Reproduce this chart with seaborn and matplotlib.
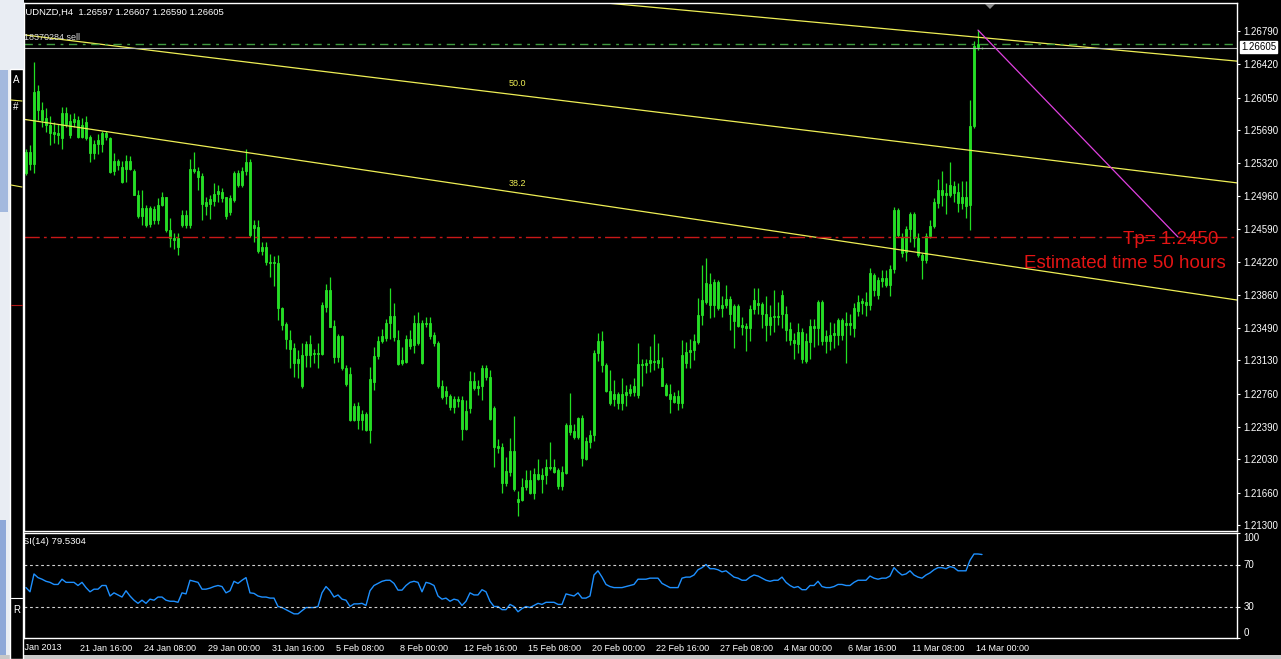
import matplotlib
matplotlib.use('Agg')
import matplotlib.pyplot as plt
import matplotlib.transforms as mtransforms
from matplotlib.patches import Rectangle, Polygon
import numpy as np
import pandas as pd
import seaborn as sns

W, H = 1281, 659

symbol_header = 'AUDNZD,H4  1.26597 1.26607 1.26590 1.26605'
rsi_header = 'RSI(14) 79.5304'
order_label = '#18370284 sell'

# H4 bars, six per weekday, counted from 17 Jan 2013 00:00
days = pd.bdate_range('2013-01-17', '2013-03-14')
bar_times = [d + pd.Timedelta(hours=4 * k) for d in days for k in range(6)]
first_bar = 3  # first bar that shows right of the side panel

opens = [
    1.2521, 1.2544, 1.2531, 1.2612, 1.2591, 1.2582, 1.2575, 1.2567, 1.2563, 1.2560,
    1.2588, 1.2579, 1.2578, 1.2580, 1.2561, 1.2578, 1.2561, 1.2543, 1.2553, 1.2553,
    1.2566, 1.2560, 1.2523, 1.2534, 1.2528, 1.2526, 1.2535, 1.2523, 1.2497, 1.2473,
    1.2482, 1.2465, 1.2481, 1.2469, 1.2486, 1.2494, 1.2458, 1.2449, 1.2449, 1.2463,
    1.2474, 1.2463, 1.2526, 1.2523, 1.2518, 1.2489, 1.2487, 1.2490, 1.2498, 1.2500,
    1.2494, 1.2478, 1.2491, 1.2521, 1.2508, 1.2523, 1.2533, 1.2460, 1.2461, 1.2439,
    1.2439, 1.2422, 1.2422, 1.2421, 1.2371, 1.2353, 1.2336, 1.2327, 1.2310, 1.2319,
    1.2319, 1.2331, 1.2320, 1.2320, 1.2320, 1.2372, 1.2391, 1.2351, 1.2317, 1.2340,
    1.2305, 1.2298, 1.2247, 1.2262, 1.2247, 1.2253, 1.2236, 1.2289, 1.2318, 1.2335,
    1.2338, 1.2355, 1.2362, 1.2336, 1.2310, 1.2311, 1.2337, 1.2330, 1.2332, 1.2310,
    1.2353, 1.2355, 1.2341, 1.2332, 1.2284, 1.2273, 1.2273, 1.2261, 1.2270, 1.2269,
    1.2237, 1.2260, 1.2290, 1.2282, 1.2284, 1.2305, 1.2294, 1.2260, 1.2218, 1.2217,
    1.2177, 1.2189, 1.2212, 1.2159, 1.2158, 1.2172, 1.2180, 1.2165, 1.2187, 1.2181,
    1.2185, 1.2194, 1.2194, 1.2191, 1.2173, 1.2188, 1.2241, 1.2234, 1.2228, 1.2249,
    1.2203, 1.2222, 1.2230, 1.2321, 1.2335, 1.2308, 1.2279, 1.2270, 1.2276, 1.2266,
    1.2275, 1.2277, 1.2278, 1.2275, 1.2309, 1.2308, 1.2310, 1.2312, 1.2310, 1.2304,
    1.2286, 1.2276, 1.2273, 1.2265, 1.2265, 1.2310, 1.2322, 1.2324, 1.2333, 1.2363,
    1.2378, 1.2398, 1.2374, 1.2400, 1.2371, 1.2374, 1.2381, 1.2357, 1.2373, 1.2350,
    1.2351, 1.2349, 1.2370, 1.2377, 1.2376, 1.2365, 1.2352, 1.2361, 1.2362, 1.2364,
    1.2364, 1.2348, 1.2336, 1.2331, 1.2345, 1.2312, 1.2333, 1.2351, 1.2349, 1.2378,
    1.2334, 1.2341, 1.2341, 1.2341, 1.2358, 1.2352, 1.2354, 1.2349, 1.2368, 1.2377,
    1.2378, 1.2374, 1.2408, 1.2386, 1.2401, 1.2405, 1.2397, 1.2415, 1.2480, 1.2450,
    1.2433, 1.2459, 1.2476, 1.2449, 1.2430, 1.2425, 1.2451, 1.2462, 1.2488, 1.2502,
    1.2497, 1.2497, 1.2507, 1.2500, 1.2488, 1.2495, 1.2486, 1.2573, 1.2661, 1.26597,
]
highs = [
    1.2548, 1.2552, 1.2645, 1.2619, 1.2600, 1.2593, 1.2584, 1.2578, 1.2576, 1.2595,
    1.2595, 1.2587, 1.2588, 1.2584, 1.2582, 1.2585, 1.2563, 1.2558, 1.2564, 1.2568,
    1.2568, 1.2561, 1.2543, 1.2537, 1.2534, 1.2541, 1.2540, 1.2526, 1.2502, 1.2502,
    1.2486, 1.2484, 1.2484, 1.2493, 1.2500, 1.2495, 1.2471, 1.2454, 1.2454, 1.2480,
    1.2480, 1.2537, 1.2545, 1.2528, 1.2521, 1.2495, 1.2497, 1.2510, 1.2508, 1.2505,
    1.2495, 1.2497, 1.2523, 1.2524, 1.2528, 1.2548, 1.2537, 1.2469, 1.2469, 1.2445,
    1.2445, 1.2431, 1.2429, 1.2430, 1.2372, 1.2356, 1.2347, 1.2332, 1.2324, 1.2332,
    1.2334, 1.2341, 1.2326, 1.2332, 1.2378, 1.2398, 1.2406, 1.2358, 1.2342, 1.2341,
    1.2308, 1.2306, 1.2265, 1.2267, 1.2258, 1.2256, 1.2306, 1.2328, 1.2340, 1.2348,
    1.2359, 1.2393, 1.2377, 1.2347, 1.2328, 1.2341, 1.2347, 1.2363, 1.2367, 1.2358,
    1.2361, 1.2361, 1.2344, 1.2334, 1.2291, 1.2284, 1.2276, 1.2273, 1.2273, 1.2273,
    1.2269, 1.2301, 1.2300, 1.2291, 1.2308, 1.2308, 1.2302, 1.2262, 1.2225, 1.2221,
    1.2206, 1.2227, 1.2251, 1.2168, 1.2182, 1.2191, 1.2191, 1.2193, 1.2203, 1.2193,
    1.2203, 1.2222, 1.2203, 1.2193, 1.2195, 1.2243, 1.2277, 1.2242, 1.2250, 1.2252,
    1.2228, 1.2236, 1.2325, 1.2343, 1.2346, 1.2310, 1.2302, 1.2291, 1.2278, 1.2293,
    1.2286, 1.2287, 1.2293, 1.2332, 1.2315, 1.2315, 1.2329, 1.2342, 1.2332, 1.2317,
    1.2288, 1.2287, 1.2278, 1.2280, 1.2336, 1.2333, 1.2337, 1.2342, 1.2382, 1.2419,
    1.2427, 1.2410, 1.2403, 1.2402, 1.2384, 1.2397, 1.2384, 1.2376, 1.2376, 1.2361,
    1.2354, 1.2374, 1.2393, 1.2393, 1.2378, 1.2384, 1.2375, 1.2391, 1.2378, 1.2391,
    1.2373, 1.2356, 1.2343, 1.2354, 1.2349, 1.2343, 1.2359, 1.2359, 1.2380, 1.2380,
    1.2347, 1.2356, 1.2354, 1.2360, 1.2360, 1.2367, 1.2365, 1.2377, 1.2386, 1.2382,
    1.2389, 1.2416, 1.2410, 1.2406, 1.2413, 1.2413, 1.2419, 1.2483, 1.2482, 1.2454,
    1.2462, 1.2478, 1.2478, 1.2454, 1.2432, 1.2454, 1.2469, 1.2493, 1.2515, 1.2523,
    1.2510, 1.2533, 1.2512, 1.2510, 1.2512, 1.2512, 1.2602, 1.2668, 1.2680, 1.26607,
]
lows = [
    1.2519, 1.2524, 1.2521, 1.2580, 1.2572, 1.2567, 1.2552, 1.2555, 1.2553, 1.2548,
    1.2572, 1.2560, 1.2572, 1.2560, 1.2560, 1.2558, 1.2533, 1.2537, 1.2542, 1.2545,
    1.2558, 1.2521, 1.2519, 1.2524, 1.2510, 1.2511, 1.2524, 1.2497, 1.2471, 1.2463,
    1.2461, 1.2461, 1.2465, 1.2465, 1.2484, 1.2456, 1.2439, 1.2437, 1.2430, 1.2461,
    1.2460, 1.2460, 1.2521, 1.2502, 1.2469, 1.2474, 1.2470, 1.2484, 1.2489, 1.2489,
    1.2470, 1.2474, 1.2489, 1.2506, 1.2506, 1.2519, 1.2450, 1.2445, 1.2432, 1.2430,
    1.2419, 1.2406, 1.2396, 1.2358, 1.2347, 1.2326, 1.2304, 1.2295, 1.2293, 1.2282,
    1.2306, 1.2306, 1.2310, 1.2304, 1.2319, 1.2367, 1.2350, 1.2310, 1.2311, 1.2302,
    1.2285, 1.2245, 1.2245, 1.2237, 1.2236, 1.2234, 1.2221, 1.2280, 1.2315, 1.2332,
    1.2335, 1.2337, 1.2335, 1.2308, 1.2308, 1.2310, 1.2326, 1.2321, 1.2330, 1.2309,
    1.2350, 1.2337, 1.2329, 1.2282, 1.2270, 1.2264, 1.2258, 1.2254, 1.2261, 1.2224,
    1.2236, 1.2254, 1.2280, 1.2274, 1.2269, 1.2291, 1.2247, 1.2194, 1.2210, 1.2165,
    1.2173, 1.2184, 1.2168, 1.2140, 1.2157, 1.2169, 1.2164, 1.2159, 1.2180, 1.2165,
    1.2176, 1.2191, 1.2188, 1.2170, 1.2169, 1.2187, 1.2230, 1.2226, 1.2226, 1.2195,
    1.2202, 1.2215, 1.2223, 1.2312, 1.2300, 1.2278, 1.2263, 1.2262, 1.2259, 1.2258,
    1.2262, 1.2273, 1.2273, 1.2271, 1.2284, 1.2299, 1.2300, 1.2302, 1.2304, 1.2284,
    1.2273, 1.2254, 1.2265, 1.2258, 1.2260, 1.2304, 1.2304, 1.2313, 1.2331, 1.2352,
    1.2376, 1.2360, 1.2361, 1.2369, 1.2361, 1.2371, 1.2347, 1.2327, 1.2350, 1.2341,
    1.2323, 1.2334, 1.2365, 1.2365, 1.2349, 1.2335, 1.2341, 1.2345, 1.2352, 1.2349,
    1.2334, 1.2330, 1.2314, 1.2321, 1.2310, 1.2310, 1.2314, 1.2328, 1.2330, 1.2330,
    1.2321, 1.2325, 1.2327, 1.2330, 1.2336, 1.2310, 1.2341, 1.2339, 1.2362, 1.2365,
    1.2362, 1.2369, 1.2384, 1.2381, 1.2395, 1.2395, 1.2385, 1.2410, 1.2450, 1.2428,
    1.2423, 1.2445, 1.2439, 1.2428, 1.2403, 1.2421, 1.2449, 1.2460, 1.2482, 1.2484,
    1.2476, 1.2495, 1.2489, 1.2478, 1.2481, 1.2471, 1.2458, 1.2571, 1.2658, 1.26590,
]
closes = [
    1.2545, 1.2531, 1.2611, 1.2591, 1.2580, 1.2574, 1.2566, 1.2564, 1.2566, 1.2588,
    1.2576, 1.2563, 1.2581, 1.2561, 1.2575, 1.2560, 1.2543, 1.2553, 1.2558, 1.2566,
    1.2561, 1.2522, 1.2535, 1.2530, 1.2511, 1.2535, 1.2526, 1.2497, 1.2473, 1.2482,
    1.2463, 1.2482, 1.2469, 1.2486, 1.2494, 1.2458, 1.2449, 1.2447, 1.2439, 1.2474,
    1.2463, 1.2526, 1.2523, 1.2517, 1.2487, 1.2485, 1.2492, 1.2498, 1.2501, 1.2493,
    1.2473, 1.2493, 1.2521, 1.2508, 1.2523, 1.2533, 1.2452, 1.2463, 1.2434, 1.2434,
    1.2422, 1.2421, 1.2421, 1.2371, 1.2352, 1.2337, 1.2326, 1.2310, 1.2315, 1.2285,
    1.2331, 1.2319, 1.2321, 1.2321, 1.2374, 1.2391, 1.2350, 1.2317, 1.2340, 1.2305,
    1.2287, 1.2247, 1.2262, 1.2247, 1.2253, 1.2236, 1.2292, 1.2318, 1.2335, 1.2340,
    1.2355, 1.2362, 1.2339, 1.2309, 1.2313, 1.2337, 1.2329, 1.2354, 1.2355, 1.2354,
    1.2354, 1.2340, 1.2332, 1.2284, 1.2272, 1.2279, 1.2261, 1.2270, 1.2268, 1.2237,
    1.2257, 1.2290, 1.2282, 1.2284, 1.2304, 1.2295, 1.2248, 1.2217, 1.2216, 1.2177,
    1.2190, 1.2212, 1.2170, 1.2156, 1.2172, 1.2180, 1.2165, 1.2187, 1.2181, 1.2185,
    1.2194, 1.2193, 1.2189, 1.2173, 1.2189, 1.2241, 1.2233, 1.2228, 1.2249, 1.2204,
    1.2223, 1.2230, 1.2321, 1.2335, 1.2308, 1.2279, 1.2265, 1.2276, 1.2266, 1.2276,
    1.2278, 1.2281, 1.2284, 1.2309, 1.2308, 1.2310, 1.2313, 1.2311, 1.2313, 1.2285,
    1.2275, 1.2270, 1.2267, 1.2273, 1.2319, 1.2322, 1.2325, 1.2334, 1.2363, 1.2380,
    1.2399, 1.2374, 1.2400, 1.2371, 1.2374, 1.2381, 1.2364, 1.2373, 1.2351, 1.2352,
    1.2349, 1.2370, 1.2380, 1.2375, 1.2365, 1.2352, 1.2361, 1.2362, 1.2361, 1.2386,
    1.2347, 1.2336, 1.2332, 1.2345, 1.2314, 1.2334, 1.2351, 1.2349, 1.2378, 1.2334,
    1.2340, 1.2335, 1.2343, 1.2358, 1.2341, 1.2354, 1.2352, 1.2371, 1.2378, 1.2379,
    1.2374, 1.2410, 1.2391, 1.2402, 1.2405, 1.2397, 1.2415, 1.2480, 1.2452, 1.2432,
    1.2459, 1.2476, 1.2449, 1.2430, 1.2425, 1.2451, 1.2462, 1.2489, 1.2502, 1.2497,
    1.2499, 1.2508, 1.2499, 1.2488, 1.2495, 1.2485, 1.2573, 1.2662, 1.2664, 1.26605,
]
rsi = [
    48, 44, 61, 57.5, 56, 54, 53, 51, 51, 56,
    53, 53, 53, 50, 53, 48, 44, 46.5, 46.5, 50,
    50, 40, 43, 41, 39, 45, 40, 36, 33, 36,
    33, 37, 36, 39, 39, 36, 35, 35, 34, 43,
    42, 55, 54, 53, 46.5, 46.5, 47.5, 49, 50, 49,
    43, 45, 54, 52, 55, 57.5, 43, 42.5, 40, 39,
    39, 38, 38, 30, 29, 27, 25, 23, 23, 26,
    29, 29, 29, 30, 43, 49, 45, 39, 41, 37,
    36, 30, 32.5, 32.5, 33, 31, 45, 50, 52, 54,
    55, 55, 52, 45.6, 45.6, 50, 53, 54,
    53, 44, 53, 52, 50,
    40, 37, 38, 35, 37, 36, 31, 35,
    43, 41, 41, 46, 44, 35,
    30, 30, 27, 27, 32, 30,
    25, 28, 30, 29, 31, 33, 32, 34, 34, 34, 32, 32,
    42, 41, 40, 43, 38, 38, 40,
    60, 64, 58,
    51, 49, 48, 48, 48, 49, 50, 51,
    56, 56, 56, 57, 57, 57,
    52, 50, 48, 48, 48,
    57, 58, 58, 60,
    65, 67, 70, 66, 66, 65,
    63, 64, 61, 58, 57, 55,
    55, 58, 60, 59, 57, 55, 54, 55, 55, 58, 53,
    50, 48, 49, 46, 46,
    50, 50, 54, 49, 48, 48, 49,
    51, 51, 50, 50, 53, 55, 55, 55,
    59, 57, 56, 57, 57, 59,
    67, 63, 60, 61, 64, 60, 58, 57, 60, 62, 65,
    67, 67, 66, 68, 67, 64, 64, 64,
    74, 80, 80, 79.53,
]

price_ticks = [1.21300, 1.21660, 1.22030, 1.22390, 1.22760, 1.23130, 1.23490, 1.23860,
               1.24220, 1.24590, 1.24960, 1.25320, 1.25690, 1.26050, 1.26420, 1.26790]
rsi_ticks = [0, 30, 70, 100]
rsi_levels = [30, 70]
time_labels = ['17 Jan 2013', '21 Jan 16:00', '24 Jan 08:00', '29 Jan 00:00', '31 Jan 16:00',
               '5 Feb 08:00', '8 Feb 00:00', '12 Feb 16:00', '15 Feb 08:00', '20 Feb 00:00',
               '22 Feb 16:00', '27 Feb 08:00', '4 Mar 00:00', '6 Mar 16:00', '11 Mar 08:00',
               '14 Mar 00:00']

tp_price = 1.2450
order_price = 1.2664
bid_price = 1.26605
# channel lines: anchor bars and prices
channel_bars = [3, 305]
channel_50 = [1.26744, 1.25106]
channel_382 = [1.25805, 1.23805]
upper_bars = [160, 305]
upper_prices = [1.27052, 1.26458]
target_bars = [241, 291]
target_prices = [1.2680, 1.2450]


def label_time(lbl):
    parts = lbl.split()
    clock = parts[2] if ':' in parts[2] else '00:00'
    return pd.Timestamp(f'{parts[0]} {parts[1]} 2013 {clock}')


time_ticks = [bar_times.index(label_time(l)) for l in time_labels]

df = pd.DataFrame({'open': opens, 'high': highs, 'low': lows, 'close': closes, 'rsi': rsi})
df['bar'] = np.arange(first_bar, first_bar + len(df))

sns.set_theme(style='dark', rc={'axes.facecolor': 'black', 'figure.facecolor': 'black',
                                'axes.grid': False})
plt.rcParams['font.family'] = ['Liberation Sans', 'DejaVu Sans']

GREEN = '#22e022'
BODY = '#86ec86'
YELLOW = '#eeee55'
RED = '#e41414'


def box(x0, y0, x1, y1):
    return [x0 / W, 1 - y1 / H, (x1 - x0) / W, (y1 - y0) / H]


def fxy(x, y):
    return x / W, 1 - y / H


fig = plt.figure(figsize=(W / 100, H / 100), dpi=100, facecolor='black')
ax = fig.add_axes(box(24, 3, 1237, 531))
ax_rsi = fig.add_axes(box(24, 533, 1237, 638), sharex=ax)

# candles
ax.vlines(df['bar'], df['low'], df['high'], color=GREEN, linewidth=0.9)
body_lo = df[['open', 'close']].min(axis=1)
body_h = (df['close'] - df['open']).abs().clip(lower=0.00004)
ax.bar(df['bar'], body_h, bottom=body_lo, width=0.6, color=BODY, edgecolor=GREEN, linewidth=0.6)

# objects on the chart
ax.axline((channel_bars[0], channel_50[0]), (channel_bars[1], channel_50[1]), color=YELLOW, lw=0.9)
ax.axline((channel_bars[0], channel_382[0]), (channel_bars[1], channel_382[1]), color=YELLOW, lw=0.9)
ax.axline((upper_bars[0], upper_prices[0]), (upper_bars[1], upper_prices[1]), color=YELLOW, lw=0.9)
ax.axhline(tp_price, color='#c81818', lw=1, dashes=(11, 3, 2, 3))
ax.axhline(order_price, color='#3f9a3f', lw=1, dashes=(6, 4, 2, 4))
ax.axhline(bid_price, color='#b4b4b4', lw=0.8)
ax.plot(target_bars, target_prices, color='#e040e0', lw=0.9)

ax.set_xlim(2.5, 305.75)
ax.set_ylim(1.21233, 1.27101)
ax.yaxis.tick_right()
ax.set_yticks(price_ticks)
ax.set_yticklabels([f'{v:.5f}' for v in price_ticks])
ax.tick_params(axis='y', colors='white', labelcolor='white', direction='out',
               length=2.5, width=0.8, pad=2, labelsize=7)
ax.tick_params(axis='x', bottom=False, labelbottom=False)
ax.set_xlabel('')
ax.set_ylabel('')

# RSI window
sns.lineplot(data=df, x='bar', y='rsi', ax=ax_rsi, color='#1e90ff', linewidth=1)
for lvl in rsi_levels:
    ax_rsi.axhline(lvl, color='#d0d0d0', lw=0.8, linestyle=(0, (2.5, 2.5)))
ax_rsi.set_ylim(0, 100)
ax_rsi.yaxis.tick_right()
ax_rsi.set_yticks(rsi_ticks)
ax_rsi.set_yticklabels([str(v) for v in rsi_ticks])
ax_rsi.tick_params(axis='y', colors='white', labelcolor='white', direction='out',
                   length=2.5, width=0.8, pad=2, labelsize=7)
ylabels = ax_rsi.get_yticklabels()
ylabels[0].set_va('bottom')
ylabels[-1].set_va('top')
ax_rsi.set_xticks(time_ticks[1:])
ax_rsi.set_xticklabels(time_labels[1:], ha='left')
ax_rsi.tick_params(axis='x', colors='white', labelcolor='white', direction='out',
                   length=2.5, width=0.8, pad=1.5, labelsize=6.5)
shift = mtransforms.ScaledTranslation(2 / 100, 0, fig.dpi_scale_trans)
for lab in ax_rsi.get_xticklabels():
    lab.set_transform(lab.get_transform() + shift)
ax_rsi.annotate(time_labels[0], xy=(time_ticks[0], 0), xycoords=('data', 'axes fraction'),
                xytext=(-2, -5.5), textcoords='offset pixels', ha='left', va='top',
                color='white', fontsize=6.5, annotation_clip=False)
ax_rsi.set_xlabel('')
ax_rsi.set_ylabel('')

for a in (ax, ax_rsi):
    a.grid(False)
    for s in a.spines.values():
        s.set_color('white')
        s.set_linewidth(1)

# texts
fig.text(*fxy(19, 12), symbol_header, color='white', fontsize=6.8, va='center', zorder=5)
fig.text(*fxy(19, 38), order_label, color='#dcdcdc', fontsize=6.5, va='center', zorder=5)
fig.text(*fxy(16, 541), rsi_header, color='white', fontsize=6.8, va='center', zorder=5)
fig.text(*fxy(517, 84), '50.0', color=YELLOW, fontsize=6.5, ha='center', va='center')
fig.text(*fxy(517, 183), '38.2', color=YELLOW, fontsize=6.5, ha='center', va='center')
fig.text(*fxy(1171, 240), 'Tp= 1.2450', color=RED, fontsize=13.5, ha='center', va='center')
fig.text(*fxy(1125, 264), 'Estimated time 50 hours', color=RED, fontsize=13.5,
         ha='center', va='center')
fig.text(*fxy(1241, 47), f'{bid_price:.5f}', color='black', fontsize=7, va='center',
         bbox=dict(facecolor='white', edgecolor='white', pad=1.0), zorder=6)

# chart shift marker
fig.add_artist(Polygon([fxy(985, 4), fxy(995, 4), fxy(990, 9)], closed=True,
                       transform=fig.transFigure, facecolor='#8a8a8a', edgecolor='none', zorder=6))

# the side window on the left edge
fig.add_artist(Rectangle((0, 0), 24 / W, 1, transform=fig.transFigure,
                         facecolor='#e9edf3', edgecolor='none', zorder=10))
fig.add_artist(Rectangle(fxy(0, 212), 8 / W, 142 / H, transform=fig.transFigure,
                         facecolor='#a3b9de', edgecolor='none', zorder=10))
fig.add_artist(Rectangle(fxy(0, 655), 6 / W, 135 / H, transform=fig.transFigure,
                         facecolor='#8ea8d8', edgecolor='none', zorder=10))
fig.add_artist(Rectangle(fxy(10, 659), 13 / W, 590 / H, transform=fig.transFigure,
                         facecolor='black', edgecolor='white', linewidth=1, zorder=11))
fig.text(*fxy(13, 80), 'A', color='white', fontsize=7, va='center', zorder=12)
fig.text(*fxy(13, 107), '#', color='white', fontsize=7, va='center', zorder=12)
fig.text(*fxy(13, 610), 'R', color='white', fontsize=7, va='center', zorder=12)
for y0, y1, c in [(100, 101, YELLOW), (185, 187, YELLOW), (305, 305, '#b01818'), (598, 598, 'white')]:
    fig.add_artist(plt.Line2D([11 / W, 22 / W], [1 - y0 / H, 1 - y1 / H], transform=fig.transFigure,
                              color=c, lw=0.8, zorder=12))
fig.add_artist(Rectangle(fxy(0, 659), 1, 4 / H, transform=fig.transFigure,
                         facecolor='#c8c8c8', edgecolor='none', zorder=10))

fig.savefig('out.png', dpi=100, facecolor='black')
